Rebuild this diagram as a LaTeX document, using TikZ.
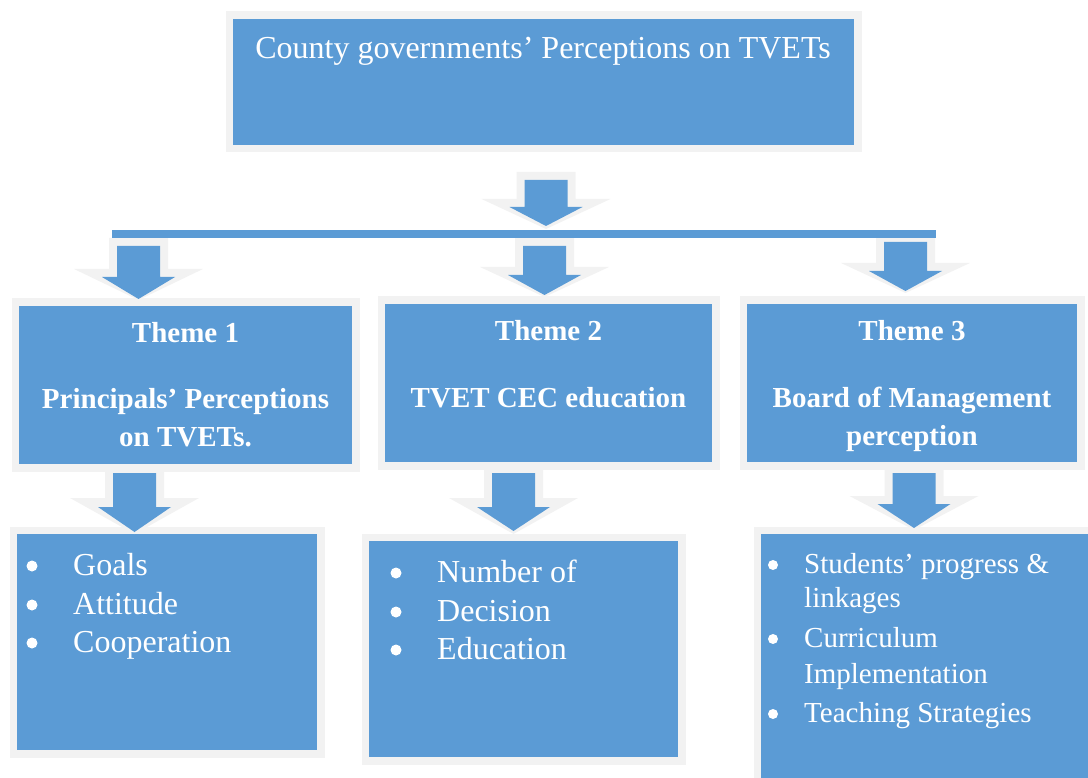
\documentclass[tikz,border=0pt]{standalone}
\usepackage{fontspec}
\setmainfont{Liberation Serif}
\definecolor{boxblue}{HTML}{5B9BD5}
\definecolor{rimgrey}{HTML}{F2F2F2}
\tikzset{
 panel/.style={rectangle, fill=boxblue, draw=rimgrey, line width=7.5pt, inner sep=0pt},
 wtxt/.style={text=white, inner sep=0pt, anchor=base},
 ltxt/.style={text=white, inner sep=0pt, anchor=base west},
 dotbullet/.style={circle, fill=white, inner sep=0pt, minimum size=11pt},
 smalldot/.style={circle, fill=white, inner sep=0pt, minimum size=10pt},
 titlefont/.style={font=\fontsize{32}{38}\selectfont},
 headfont/.style={font=\fontsize{29}{36}\selectfont\bfseries},
 listfont/.style={font=\fontsize{32}{38}\selectfont},
 smalllist/.style={font=\fontsize{29}{36}\selectfont},
}
\newcommand\panelbox[5]{\node[panel, minimum width={#4-#2+7.5}, minimum height={#5-#3+7.5}] (#1) at ({(#2+#4)/2},{(#3+#5)/2}) {};}
\newcommand\dnarrow[8]{%
 \fill[rimgrey] ({#2-29.5},#3) -- ({#2+29.5},#3) -- ({#2+29.5},#4) -- ({#2+64.5},#4) -- (#2,#5) -- ({#2-64.5},#4) -- ({#2-29.5},#4) -- cycle;
 \fill[boxblue] ({#2-21.5},#6) -- ({#2+21.5},#6) -- ({#2+21.5},#7) -- ({#2+36.5},#7) -- (#2,#8) -- ({#2-36.5},#7) -- ({#2-21.5},#7) -- cycle;
 \coordinate (#1) at (#2,#8);}
\begin{document}
\begin{tikzpicture}[x=1pt,y=-1pt]
\useasboundingbox (0,0) rectangle (1088,778);
\clip (0,0) rectangle (1088,778);
% panels
\panelbox{top}{233}{19}{854}{145}
\panelbox{th1}{19}{306}{352}{464}
\panelbox{th2}{385}{304}{712}{462}
\panelbox{th3}{747}{304}{1077}{462}
\panelbox{ls1}{17}{534}{317}{750}
\panelbox{ls2}{369}{541}{678}{757}
\panelbox{ls3}{761}{534}{1110}{800}
% arrows
\dnarrow{arA}{546}{172}{199}{229}{180}{207}{226}
\dnarrow{arT1}{138.5}{238}{269}{300}{246}{277}{299}
\dnarrow{arT2}{544.5}{238}{267}{297}{246}{275}{295}
\dnarrow{arT3}{905.5}{233}{263}{293}{242}{271}{291}
\dnarrow{arB1}{134.5}{472}{498}{534}{473}{507}{532}
\dnarrow{arB2}{513.5}{469}{498}{534}{473}{507}{531}
\dnarrow{arB3}{914}{470}{496}{530}{473}{504}{528}
% bar
\fill[boxblue] (112,230) rectangle (936,238);
% texts
\node[wtxt,titlefont] (ttl) at (543,59) {County governments’ Perceptions on TVETs};
\node[wtxt,headfont] (h1a) at (185.5,342) {Theme 1};
\node[wtxt,headfont] (h1b) at (185.5,408) {Principals’ Perceptions};
\node[wtxt,headfont] (h1c) at (185.5,446) {on TVETs.};
\node[wtxt,headfont] (h2a) at (548.5,341) {Theme 2};
\node[wtxt,headfont] (h2b) at (548.5,407) {TVET CEC education};
\node[wtxt,headfont] (h3a) at (912,341) {Theme 3};
\node[wtxt,headfont] (h3b) at (912,407) {Board of Management};
\node[wtxt,headfont] (h3c) at (912,445) {perception};
% list 1
\node[dotbullet] (p1a) at (32,566) {};
\node[dotbullet] (p1b) at (32,605) {};
\node[dotbullet] (p1c) at (32,643) {};
\node[ltxt,listfont] (l1a) at (73,575) {Goals};
\node[ltxt,listfont] (l1b) at (73,614) {Attitude};
\node[ltxt,listfont] (l1c) at (73,652) {Cooperation};
% list 2
\node[dotbullet] (p2a) at (396,573) {};
\node[dotbullet] (p2b) at (396,612) {};
\node[dotbullet] (p2c) at (396,650) {};
\node[ltxt,listfont] (l2a) at (437,582) {Number of};
\node[ltxt,listfont] (l2b) at (437,621) {Decision};
\node[ltxt,listfont] (l2c) at (437,659) {Education};
% list 3
\node[smalldot] (p3a) at (773,565) {};
\node[smalldot] (p3b) at (773,639) {};
\node[smalldot] (p3c) at (773,714) {};
\node[ltxt,smalllist] (l3a) at (804,573) {Students’ progress \&};
\node[ltxt,smalllist] (l3b) at (804,607) {linkages};
\node[ltxt,smalllist] (l3c) at (804,647) {Curriculum};
\node[ltxt,smalllist] (l3d) at (804,683) {Implementation};
\node[ltxt,smalllist] (l3e) at (804,722) {Teaching Strategies};
\end{tikzpicture}
\end{document}
